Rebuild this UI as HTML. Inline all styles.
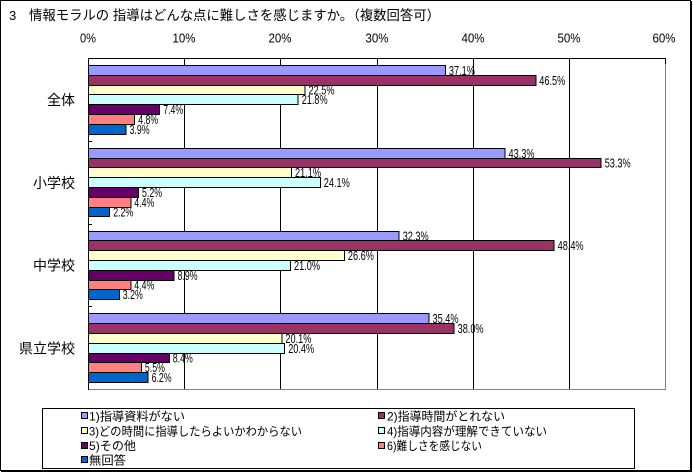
<!DOCTYPE html>
<html><head><meta charset="utf-8"><style>
html,body{margin:0;padding:0;background:#fff;}
svg{display:block;}
text{font-family:"Liberation Sans","Noto Sans CJK JP",sans-serif;fill:#000;}
.j{font-family:"Liberation Sans","Noto Sans CJK JP",sans-serif;}
</style></head><body>
<svg width="693" height="473" viewBox="0 0 693 473" xmlns="http://www.w3.org/2000/svg">
<rect x="0" y="0" width="693" height="473" fill="#fff"/>
<!-- outer border -->
<rect x="0.5" y="0.5" width="690" height="470" fill="none" stroke="#000" stroke-width="1"/>
<line x1="691.5" y1="1" x2="691.5" y2="472" stroke="#000"/>
<line x1="1" y1="471.5" x2="692" y2="471.5" stroke="#000"/>

<!-- title -->
<text x="9" y="20" font-size="13">3</text>
<text x="29" y="20" font-size="13.5" class="j" textLength="411" lengthAdjust="spacingAndGlyphs">情報モラルの 指導はどんな点に難しさを感じますか。（複数回答可）</text>

<!-- axis labels -->
<g font-size="12.5" text-anchor="middle">
<text x="88" y="42.5" textLength="16" lengthAdjust="spacingAndGlyphs">0%</text>
<text x="184" y="42.5" textLength="23" lengthAdjust="spacingAndGlyphs">10%</text>
<text x="280" y="42.5" textLength="23" lengthAdjust="spacingAndGlyphs">20%</text>
<text x="377" y="42.5" textLength="23" lengthAdjust="spacingAndGlyphs">30%</text>
<text x="473" y="42.5" textLength="23" lengthAdjust="spacingAndGlyphs">40%</text>
<text x="569" y="42.5" textLength="23" lengthAdjust="spacingAndGlyphs">50%</text>
<text x="664" y="42.5" textLength="23" lengthAdjust="spacingAndGlyphs">60%</text>
</g>

<!-- plot area -->
<g shape-rendering="crispEdges">
<rect x="88.5" y="58.5" width="577" height="331" fill="#fff" stroke="#808080"/>
<g stroke="#000">
<line x1="184.5" y1="58" x2="184.5" y2="389"/>
<line x1="280.5" y1="58" x2="280.5" y2="389"/>
<line x1="377.5" y1="58" x2="377.5" y2="389"/>
<line x1="473.5" y1="58" x2="473.5" y2="389"/>
<line x1="569.5" y1="58" x2="569.5" y2="389"/>
<line x1="665.5" y1="58" x2="665.5" y2="64"/>
<line x1="88" y1="58.5" x2="666" y2="58.5"/>
<line x1="88.5" y1="58" x2="88.5" y2="390"/>
<line x1="88" y1="141.5" x2="92" y2="141.5"/>
<line x1="88" y1="224.5" x2="92" y2="224.5"/>
<line x1="88" y1="306.5" x2="92" y2="306.5"/>
</g>

<g stroke="#000" stroke-width="1">
<!-- g0 全体 -->
<rect x="88.5" y="65.5" width="356.9" height="10" fill="#9999FF"/>
<rect x="88.5" y="75.5" width="447.3" height="10" fill="#993366"/>
<rect x="88.5" y="85.5" width="216.5" height="9" fill="#FFFFCC"/>
<rect x="88.5" y="94.5" width="209.7" height="10" fill="#CCFFFF"/>
<rect x="88.5" y="104.5" width="71.2" height="10" fill="#660066"/>
<rect x="88.5" y="114.5" width="46.2" height="10" fill="#FF8080"/>
<rect x="88.5" y="124.5" width="37.5" height="10" fill="#0066CC"/>
<!-- g1 小学校 -->
<rect x="88.5" y="148.5" width="416.5" height="10" fill="#9999FF"/>
<rect x="88.5" y="158.5" width="512.7" height="9" fill="#993366"/>
<rect x="88.5" y="167.5" width="203.0" height="10" fill="#FFFFCC"/>
<rect x="88.5" y="177.5" width="231.8" height="10" fill="#CCFFFF"/>
<rect x="88.5" y="187.5" width="50.0" height="10" fill="#660066"/>
<rect x="88.5" y="197.5" width="42.3" height="10" fill="#FF8080"/>
<rect x="88.5" y="207.5" width="21.2" height="9" fill="#0066CC"/>
<!-- g2 中学校 -->
<rect x="88.5" y="231.5" width="310.7" height="9" fill="#9999FF"/>
<rect x="88.5" y="240.5" width="465.6" height="10" fill="#993366"/>
<rect x="88.5" y="250.5" width="255.9" height="10" fill="#FFFFCC"/>
<rect x="88.5" y="260.5" width="202.0" height="10" fill="#CCFFFF"/>
<rect x="88.5" y="270.5" width="85.6" height="10" fill="#660066"/>
<rect x="88.5" y="280.5" width="42.3" height="9" fill="#FF8080"/>
<rect x="88.5" y="289.5" width="30.8" height="10" fill="#0066CC"/>
<!-- g3 県立学校 -->
<rect x="88.5" y="313.5" width="340.5" height="10" fill="#9999FF"/>
<rect x="88.5" y="323.5" width="365.6" height="10" fill="#993366"/>
<rect x="88.5" y="333.5" width="193.4" height="10" fill="#FFFFCC"/>
<rect x="88.5" y="343.5" width="196.2" height="10" fill="#CCFFFF"/>
<rect x="88.5" y="353.5" width="80.8" height="9" fill="#660066"/>
<rect x="88.5" y="362.5" width="52.9" height="10" fill="#FF8080"/>
<rect x="88.5" y="372.5" width="59.6" height="10" fill="#0066CC"/>
</g>
</g>

<!-- value labels -->
<g font-size="12.5">
<text x="448.9" y="74.8" textLength="26" lengthAdjust="spacingAndGlyphs">37.1%</text>
<text x="539.3" y="84.8" textLength="26" lengthAdjust="spacingAndGlyphs">46.5%</text>
<text x="308.5" y="94.3" textLength="26" lengthAdjust="spacingAndGlyphs">22.5%</text>
<text x="301.7" y="103.8" textLength="26" lengthAdjust="spacingAndGlyphs">21.8%</text>
<text x="163.2" y="113.8" textLength="20" lengthAdjust="spacingAndGlyphs">7.4%</text>
<text x="138.2" y="123.8" textLength="20" lengthAdjust="spacingAndGlyphs">4.8%</text>
<text x="129.5" y="133.8" textLength="20" lengthAdjust="spacingAndGlyphs">3.9%</text>

<text x="508.5" y="157.8" textLength="26" lengthAdjust="spacingAndGlyphs">43.3%</text>
<text x="604.7" y="167.3" textLength="26" lengthAdjust="spacingAndGlyphs">53.3%</text>
<text x="295.0" y="176.8" textLength="26" lengthAdjust="spacingAndGlyphs">21.1%</text>
<text x="323.8" y="186.8" textLength="26" lengthAdjust="spacingAndGlyphs">24.1%</text>
<text x="142.0" y="196.8" textLength="20" lengthAdjust="spacingAndGlyphs">5.2%</text>
<text x="134.3" y="206.8" textLength="20" lengthAdjust="spacingAndGlyphs">4.4%</text>
<text x="113.2" y="216.3" textLength="20" lengthAdjust="spacingAndGlyphs">2.2%</text>

<text x="402.7" y="240.3" textLength="26" lengthAdjust="spacingAndGlyphs">32.3%</text>
<text x="557.6" y="249.8" textLength="26" lengthAdjust="spacingAndGlyphs">48.4%</text>
<text x="347.9" y="259.8" textLength="26" lengthAdjust="spacingAndGlyphs">26.6%</text>
<text x="294.0" y="269.8" textLength="26" lengthAdjust="spacingAndGlyphs">21.0%</text>
<text x="177.6" y="279.8" textLength="20" lengthAdjust="spacingAndGlyphs">8.9%</text>
<text x="134.3" y="289.3" textLength="20" lengthAdjust="spacingAndGlyphs">4.4%</text>
<text x="122.8" y="298.8" textLength="20" lengthAdjust="spacingAndGlyphs">3.2%</text>

<text x="432.5" y="322.8" textLength="26" lengthAdjust="spacingAndGlyphs">35.4%</text>
<text x="457.6" y="332.8" textLength="26" lengthAdjust="spacingAndGlyphs">38.0%</text>
<text x="285.4" y="342.8" textLength="26" lengthAdjust="spacingAndGlyphs">20.1%</text>
<text x="288.2" y="352.8" textLength="26" lengthAdjust="spacingAndGlyphs">20.4%</text>
<text x="172.8" y="362.3" textLength="20" lengthAdjust="spacingAndGlyphs">8.4%</text>
<text x="144.9" y="371.8" textLength="20" lengthAdjust="spacingAndGlyphs">5.5%</text>
<text x="151.6" y="381.8" textLength="20" lengthAdjust="spacingAndGlyphs">6.2%</text>
</g>

<!-- category labels -->
<g font-size="14" text-anchor="end" class="j">
<text x="75" y="105">全体</text>
<text x="75" y="188">小学校</text>
<text x="75" y="270.5">中学校</text>
<text x="75" y="353.5">県立学校</text>
</g>

<!-- legend -->
<g shape-rendering="crispEdges">
<rect x="42.5" y="408.5" width="592" height="60" fill="#fff" stroke="#000"/>
<g stroke="#000">
<rect x="81.5" y="412.5" width="6" height="6" fill="#9999FF"/>
<rect x="81.5" y="427.5" width="6" height="6" fill="#FFFFCC"/>
<rect x="81.5" y="442.5" width="6" height="6" fill="#660066"/>
<rect x="81.5" y="456.5" width="6" height="6" fill="#0066CC"/>
<rect x="378.5" y="412.5" width="6" height="6" fill="#993366"/>
<rect x="378.5" y="427.5" width="6" height="6" fill="#CCFFFF"/>
<rect x="378.5" y="442.5" width="6" height="6" fill="#FF8080"/>
</g>
</g>
<g font-size="12" class="j">
<text x="89" y="420.5" textLength="96" lengthAdjust="spacingAndGlyphs">1)指導資料がない</text>
<text x="89" y="435.5" textLength="213" lengthAdjust="spacingAndGlyphs">3)どの時間に指導したらよいかわからない</text>
<text x="89" y="450" textLength="47" lengthAdjust="spacingAndGlyphs">5)その他</text>
<text x="89" y="464.5" textLength="37" lengthAdjust="spacingAndGlyphs">無回答</text>
<text x="387" y="420.5" textLength="118" lengthAdjust="spacingAndGlyphs">2)指導時間がとれない</text>
<text x="387" y="435.5" textLength="160" lengthAdjust="spacingAndGlyphs">4)指導内容が理解できていない</text>
<text x="387" y="450" textLength="95" lengthAdjust="spacingAndGlyphs">6)難しさを感じない</text>
</g>
</svg>
</body></html>
